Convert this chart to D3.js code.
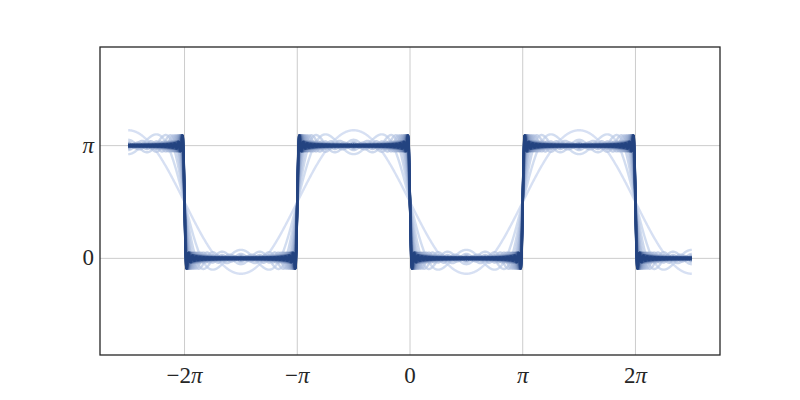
<!DOCTYPE html>
<html>
<head>
<meta charset="utf-8">
<script src="https://cdn.jsdelivr.net/npm/d3@7"></script>
<style>
  html, body { margin: 0; padding: 0; background: #fff; }
  svg text { font-family: "Liberation Serif", "DejaVu Serif", serif; }
</style>
</head>
<body>
<svg id="container"></svg>
<script>
let containerWidth = 800;
let containerHeight = 400;
let marginTop = 47;
let marginBottom = 45;
let marginLeft = 100;
let marginRight = 80;

// number of odd harmonics in each partial sum of the square wave
const termCounts = d3.range(1, 31);
// x ticks (multiples of pi) and their labels
const xTicks = [-2, -1, 0, 1, 2];
const xTickLabels = ["−2", "−", "0", "", "2"];
// y ticks (multiples of pi)
const yTicks = [0, 1];
const yTickLabels = ["0", ""];
// sampled x range, in multiples of pi
const xExtent = [-2.5, 2.5];

const PI = Math.PI;
const plotW = containerWidth - marginLeft - marginRight;
const plotH = containerHeight - marginTop - marginBottom;

const xLo = xExtent[0] * PI, xHi = xExtent[1] * PI;
const xPad = (xHi - xLo) * 0.05;
const xScale = d3.scaleLinear()
  .domain([xLo - xPad, xHi + xPad])
  .range([marginLeft, marginLeft + plotW]);

// equal aspect, centred on pi/2
const pxPerUnit = plotW / (xHi - xLo + 2 * xPad);
const yHalf = plotH / pxPerUnit / 2;
const yScale = d3.scaleLinear()
  .domain([PI / 2 - yHalf, PI / 2 + yHalf])
  .range([marginTop + plotH + 1, marginTop + 1]);

const color = d3.scaleLinear()
  .domain([1, termCounts.length])
  .range(["#c9d6ef", "#21417f"])
  .interpolate(d3.interpolateRgb);

const svg = d3.select("#container")
  .attr("width", containerWidth)
  .attr("height", containerHeight);

// grid
svg.append("g")
  .selectAll("line")
  .data(xTicks)
  .join("line")
  .attr("x1", (d) => xScale(d * PI)).attr("x2", (d) => xScale(d * PI))
  .attr("y1", marginTop).attr("y2", marginTop + plotH)
  .attr("stroke", "#cccccc").attr("stroke-width", 1);

svg.append("g")
  .selectAll("line")
  .data(yTicks)
  .join("line")
  .attr("y1", (d) => yScale(d * PI)).attr("y2", (d) => yScale(d * PI))
  .attr("x1", marginLeft).attr("x2", marginLeft + plotW)
  .attr("stroke", "#cccccc").attr("stroke-width", 1);

// partial sums of pi/2 - 2 * sum sin((2k+1)x)/(2k+1)
const xs = d3.range(0, 2001).map((i) => xLo + (xHi - xLo) * i / 2000);
const partial = (n) => xs.map((x) => {
  let s = 0;
  for (let k = 0; k < n; k++) s += Math.sin((2 * k + 1) * x) / (2 * k + 1);
  return [x, PI / 2 - 2 * s];
});

const line = d3.line()
  .x((d) => xScale(d[0]))
  .y((d) => yScale(d[1]));

svg.append("g")
  .selectAll("path")
  .data(termCounts)
  .join("path")
  .attr("d", (n) => line(partial(n)))
  .attr("fill", "none")
  .attr("stroke", (n) => color(n))
  .attr("stroke-opacity", 0.75)
  .attr("stroke-width", 2.4)
  .attr("stroke-linejoin", "round");

// frame
svg.append("rect")
  .attr("x", marginLeft).attr("y", marginTop)
  .attr("width", plotW).attr("height", plotH)
  .attr("fill", "none")
  .attr("stroke", "#262626")
  .attr("stroke-width", 1.3);

// tick labels
const xl = svg.append("g")
  .selectAll("text")
  .data(xTicks)
  .join("text")
  .attr("x", (d) => xScale(d * PI))
  .attr("y", 383)
  .attr("text-anchor", "middle")
  .attr("font-size", 23)
  .attr("fill", "#262626");
xl.append("tspan").text((d, i) => xTickLabels[i]);
xl.filter((d) => d !== 0).append("tspan").attr("font-style", "italic").text("π");

const yl = svg.append("g")
  .selectAll("text")
  .data(yTicks)
  .join("text")
  .attr("x", 94)
  .attr("y", (d) => yScale(d * PI) + 7)
  .attr("text-anchor", "end")
  .attr("font-size", 23)
  .attr("fill", "#262626");
yl.append("tspan").text((d, i) => yTickLabels[i]);
yl.filter((d) => d !== 0).append("tspan").attr("font-style", "italic").text("π");
</script>
</body>
</html>
